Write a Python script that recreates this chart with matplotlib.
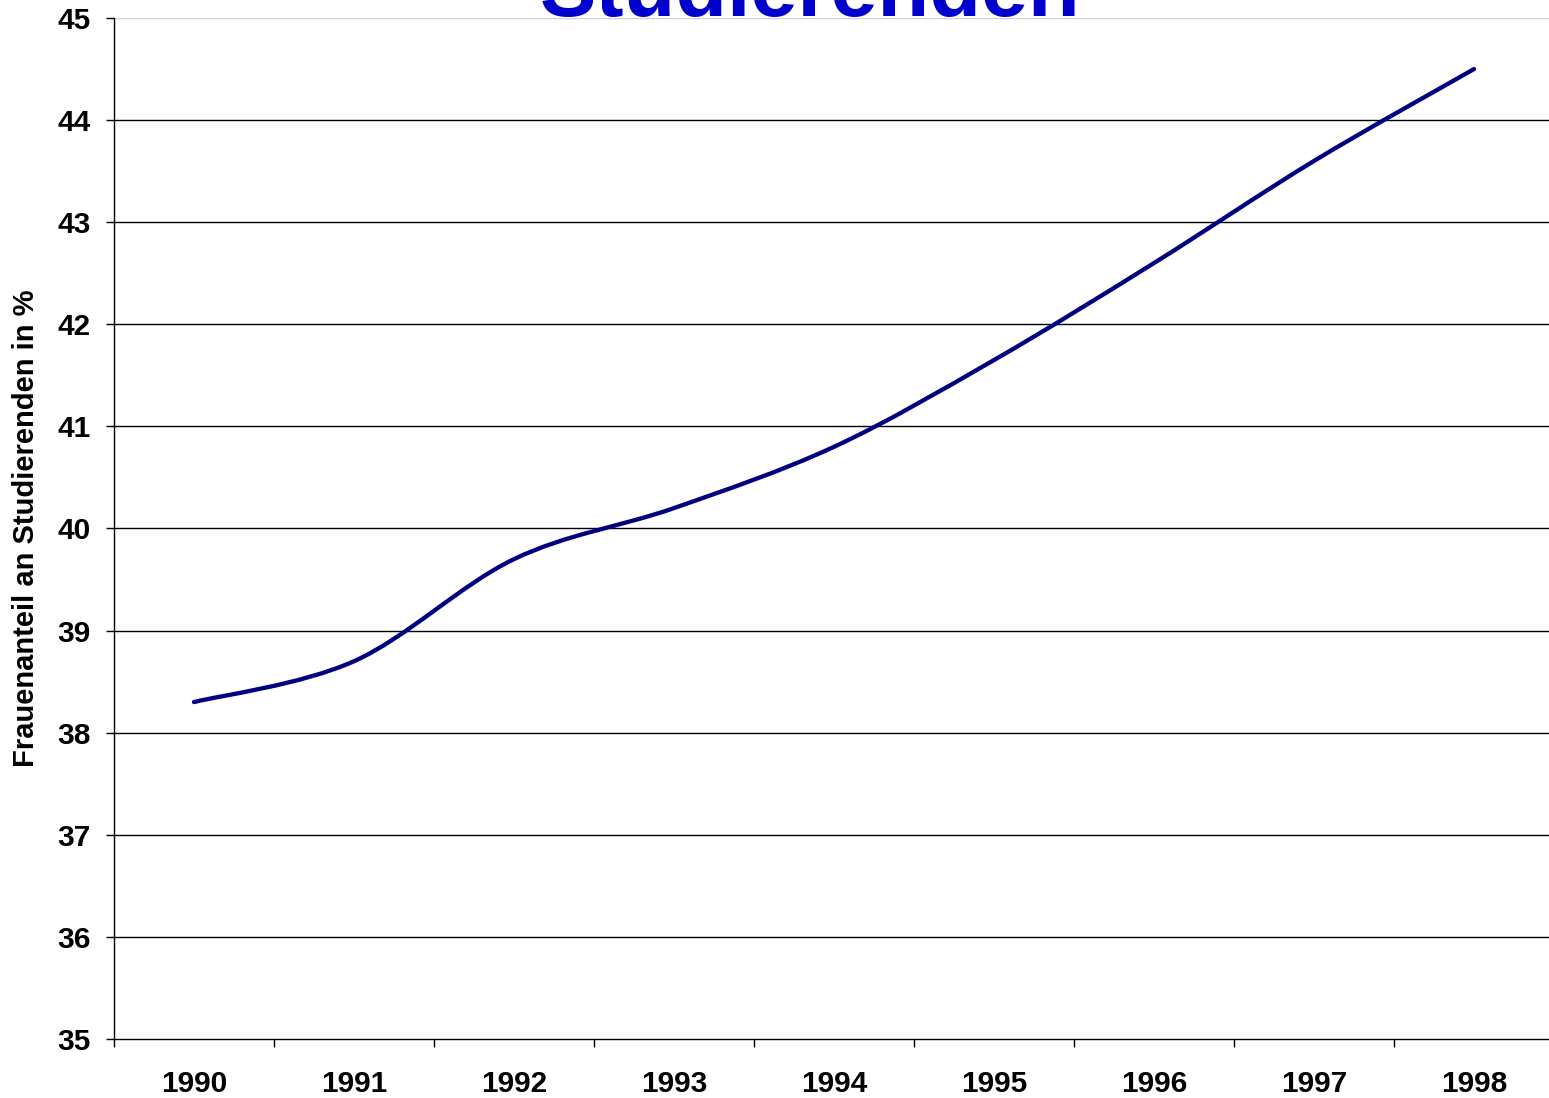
"""Frauenanteil an den Studierenden 1990-1998, Excel-style line chart."""

import matplotlib
matplotlib.use("Agg")
import matplotlib.pyplot as plt
from matplotlib.path import Path
from matplotlib.patches import PathPatch

plt.rcParams["font.family"] = ["Liberation Sans", "DejaVu Sans"]
plt.rcParams["font.weight"] = "bold"

years = ["1990", "1991", "1992", "1993", "1994", "1995", "1996", "1997", "1998"]
share = [38.3, 38.7, 39.7, 40.2, 40.8, 41.65, 42.6, 43.6, 44.5]

title = "Studierenden"
ylabel = "Frauenanteil an Studierenden in %"
y_ticks = list(range(35, 46))

NAVY = "#000080"
TITLE_BLUE = "#0000CC"


def smooth_path(xs, ys):
    # Excel "smoothed line": Catmull-Rom segments drawn as cubic Beziers
    verts = [(xs[0], ys[0])]
    codes = [Path.MOVETO]
    n = len(xs)
    for i in range(n - 1):
        x0, y0 = (xs[i - 1], ys[i - 1]) if i > 0 else (xs[i], ys[i])
        x1, y1 = xs[i], ys[i]
        x2, y2 = xs[i + 1], ys[i + 1]
        x3, y3 = (xs[i + 2], ys[i + 2]) if i + 2 < n else (x2, y2)
        c1 = (x1 + (x2 - x0) / 6, y1 + (y2 - y0) / 6)
        c2 = (x2 - (x3 - x1) / 6, y2 - (y3 - y1) / 6)
        verts += [c1, c2, (x2, y2)]
        codes += [Path.CURVE4] * 3
    return Path(verts, codes)


W, H = 1549, 1098
fig = plt.figure(figsize=(W / 100, H / 100), dpi=100)
ax = fig.add_axes([114 / W, 1 - 1039 / H, 1440 / W, (1039 - 18) / H])

pos = list(range(1, len(years) + 1))
ax.add_patch(PathPatch(smooth_path(pos, share), facecolor="none",
                       edgecolor=NAVY, lw=3.1, capstyle="round", zorder=3))

ax.set_xlim(0.5, len(years) + 0.5)
ax.set_ylim(35, 45)

# gridlines like Excel: black, top one faint
for v in y_ticks[1:]:
    ax.axhline(v, color="#d0d0d0" if v == 45 else "black", lw=1.0, zorder=1)

ax.set_yticks(y_ticks)
ax.set_yticklabels([str(v) for v in y_ticks], fontsize=21.5, fontweight="bold")
ax.tick_params(axis="y", direction="out", length=6, width=1, pad=11)

# ticks on category boundaries, labels in category centres
ax.set_xticks([p - 0.5 for p in pos] + [len(years) + 0.5])
ax.set_xticklabels([])
ax.set_xticks(pos, minor=True)
ax.set_xticklabels(years, minor=True, fontsize=21.5, fontweight="bold")
ax.tick_params(axis="x", which="major", direction="out", length=6, width=1)
ax.tick_params(axis="x", which="minor", length=0, pad=22)

for side in ("top", "right"):
    ax.spines[side].set_visible(False)
ax.spines["left"].set_linewidth(1)
ax.spines["bottom"].set_linewidth(1)

ax.set_ylabel(ylabel, fontsize=21, fontweight="bold")
ax.yaxis.set_label_coords(-(114 - 40) / 1440, 0.5)

fig.text(810 / W, 1 - 16 / H, title, ha="center", va="baseline",
         fontsize=61, fontweight="bold", color=TITLE_BLUE)

fig.savefig("out.png", dpi=100)
